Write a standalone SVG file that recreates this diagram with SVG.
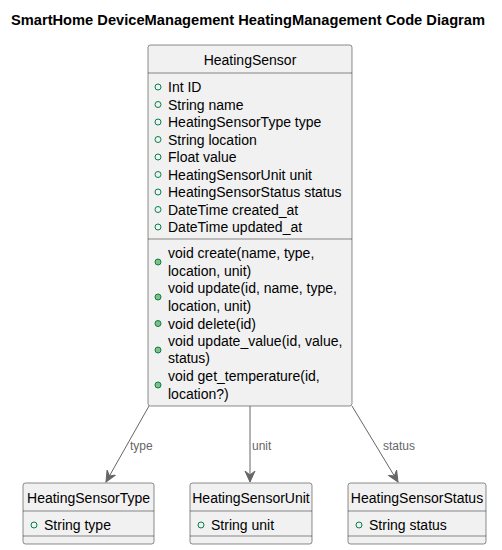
<svg xmlns="http://www.w3.org/2000/svg" width="502" height="550" viewBox="0 0 502 550">
<style>
.box{fill:#F1F1F1;stroke:#181818;stroke-width:0.5}
.sep{stroke:#181818;stroke-width:0.5}
.t{font-family:"Liberation Sans",Arial,sans-serif;font-size:14px;fill:#000}
.lbl{font-family:"Liberation Sans",Arial,sans-serif;font-size:12px;fill:#666}
.att{fill:none;stroke:#038048;stroke-width:1}
.met{fill:#84BE84;stroke:#038048;stroke-width:1}
.edge{stroke:#666;stroke-width:1;fill:none}
</style>
<defs>
<marker id="ah" viewBox="0 0 12 12" refX="11" refY="6" markerWidth="12" markerHeight="12" markerUnits="userSpaceOnUse" orient="auto">
<path d="M0,1 L11,6 L0,11 L4,6 Z" fill="#666" stroke="#666" stroke-width="1"/>
</marker>
</defs>
<text x="11" y="25" textLength="474" lengthAdjust="spacingAndGlyphs" style="font-family:'Liberation Sans',Arial,sans-serif;font-size:14px;font-weight:bold">SmartHome DeviceManagement HeatingManagement Code Diagram</text>
<g id="HeatingSensor">
<rect class="box" x="148" y="45" width="204" height="361" rx="2.5"/>
<text class="t" x="250" y="65" text-anchor="middle">HeatingSensor</text>
<line class="sep" x1="148" y1="73" x2="352" y2="73"/>
<circle class="att" cx="158" cy="87" r="3"/><text class="t" x="168" y="92">Int ID</text>
<circle class="att" cx="158" cy="104.5" r="3"/><text class="t" x="168" y="109.5">String name</text>
<circle class="att" cx="158" cy="122" r="3"/><text class="t" x="168" y="127">HeatingSensorType type</text>
<circle class="att" cx="158" cy="139.5" r="3"/><text class="t" x="168" y="144.5">String location</text>
<circle class="att" cx="158" cy="157" r="3"/><text class="t" x="168" y="162">Float value</text>
<circle class="att" cx="158" cy="174.5" r="3"/><text class="t" x="168" y="179.5">HeatingSensorUnit unit</text>
<circle class="att" cx="158" cy="192" r="3"/><text class="t" x="168" y="197">HeatingSensorStatus status</text>
<circle class="att" cx="158" cy="209.5" r="3"/><text class="t" x="168" y="214.5">DateTime created_at</text>
<circle class="att" cx="158" cy="227" r="3"/><text class="t" x="168" y="232">DateTime updated_at</text>
<line class="sep" x1="148" y1="239" x2="352" y2="239"/>
<circle class="met" cx="158" cy="262" r="3"/>
<text class="t" x="168" y="258">void create(name, type,</text>
<text class="t" x="168" y="276">location, unit)</text>
<circle class="met" cx="158" cy="297" r="3"/>
<text class="t" x="168" y="293">void update(id, name, type,</text>
<text class="t" x="168" y="311">location, unit)</text>
<circle class="met" cx="158" cy="323.5" r="3"/>
<text class="t" x="168" y="328.5">void delete(id)</text>
<circle class="met" cx="158" cy="350" r="3"/>
<text class="t" x="168" y="346">void update_value(id, value,</text>
<text class="t" x="168" y="363">status)</text>
<circle class="met" cx="158" cy="385" r="3"/>
<text class="t" x="168" y="381">void get_temperature(id,</text>
<text class="t" x="168" y="399">location?)</text>
</g>
<g id="HeatingSensorType">
<rect class="box" x="23" y="483" width="131" height="61" rx="2.5"/>
<text class="t" x="88.5" y="503" text-anchor="middle">HeatingSensorType</text>
<line class="sep" x1="23" y1="511" x2="154" y2="511"/>
<circle class="att" cx="34" cy="525" r="3"/><text class="t" x="44" y="530">String type</text>
<line class="sep" x1="23" y1="536" x2="154" y2="536"/>
</g>
<g id="HeatingSensorUnit">
<rect class="box" x="190" y="483" width="122" height="61" rx="2.5"/>
<text class="t" x="251" y="503" text-anchor="middle">HeatingSensorUnit</text>
<line class="sep" x1="190" y1="511" x2="312" y2="511"/>
<circle class="att" cx="201" cy="525" r="3"/><text class="t" x="211" y="530">String unit</text>
<line class="sep" x1="190" y1="536" x2="312" y2="536"/>
</g>
<g id="HeatingSensorStatus">
<rect class="box" x="348" y="483" width="138" height="61" rx="2.5"/>
<text class="t" x="417" y="503" text-anchor="middle">HeatingSensorStatus</text>
<line class="sep" x1="348" y1="511" x2="486" y2="511"/>
<circle class="att" cx="359" cy="525" r="3"/><text class="t" x="369" y="530">String status</text>
<line class="sep" x1="348" y1="536" x2="486" y2="536"/>
</g>
<g id="connectors">
<path class="edge" d="M149,406 L106,482" marker-end="url(#ah)"/>
<text class="lbl" x="130" y="450">type</text>
<path class="edge" d="M250,406 L250,482" marker-end="url(#ah)"/>
<text class="lbl" x="252" y="450">unit</text>
<path class="edge" d="M352,406 L398,482" marker-end="url(#ah)"/>
<text class="lbl" x="383" y="450">status</text>
</g>
</svg>
